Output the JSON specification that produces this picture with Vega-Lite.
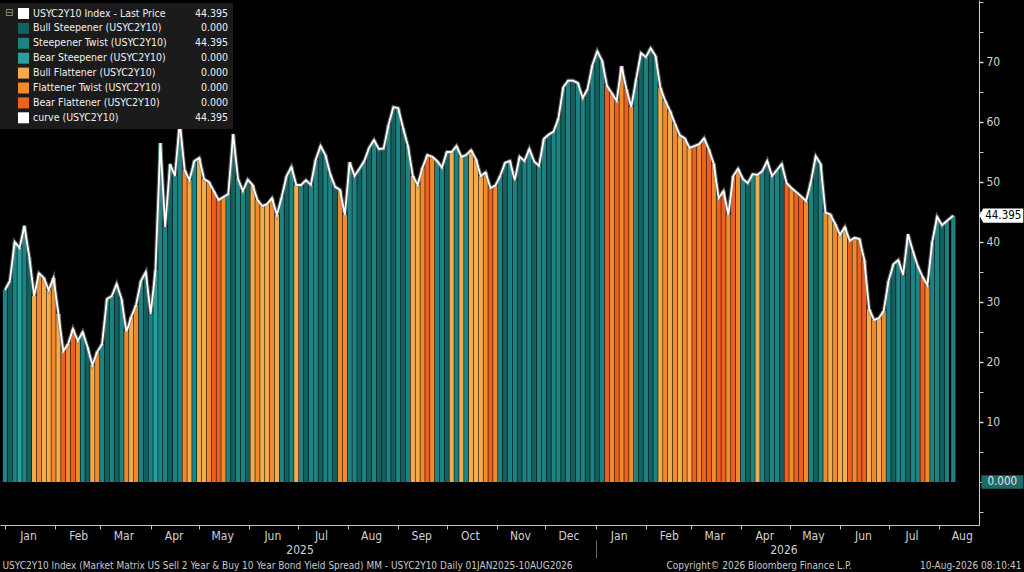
{
  "$schema": "https://vega.github.io/schema/vega-lite/v6.json",
  "width": 979,
  "height": 525,
  "autosize": {"type": "none"},
  "padding": {"left": 0, "top": 0, "right": 45, "bottom": 47},
  "background": "#000000",
  "config": {
    "view": {"stroke": null},
    "font": "Liberation Sans Narrow, DejaVu Sans Condensed, Arial Narrow, sans-serif",
    "axis": {"grid": false, "labelFont": "Liberation Sans Narrow, DejaVu Sans Condensed, sans-serif", "titleFont": "Liberation Sans Narrow, DejaVu Sans Condensed, sans-serif"},
    "legend": {"labelFont": "Liberation Sans Narrow, DejaVu Sans Condensed, sans-serif", "titleFont": "DejaVu Sans, sans-serif"}
  },
  "datasets": {
    "series": [
      {"date":"2025-01-01","value":32,"regime":"ST"},
      {"date":"2025-01-04","value":33.5,"regime":"BS"},
      {"date":"2025-01-07","value":40,"regime":"ST"},
      {"date":"2025-01-10","value":39,"regime":"BeS"},
      {"date":"2025-01-13","value":42.7,"regime":"ST"},
      {"date":"2025-01-16","value":37.5,"regime":"BS"},
      {"date":"2025-01-19","value":31,"regime":"BF"},
      {"date":"2025-01-22","value":34.8,"regime":"FT"},
      {"date":"2025-01-25","value":34,"regime":"BF"},
      {"date":"2025-01-28","value":32,"regime":"BF"},
      {"date":"2025-01-31","value":34,"regime":"FT"},
      {"date":"2025-02-03","value":28,"regime":"BF"},
      {"date":"2025-02-06","value":21.8,"regime":"BeF"},
      {"date":"2025-02-09","value":23,"regime":"FT"},
      {"date":"2025-02-12","value":25.5,"regime":"BeF"},
      {"date":"2025-02-15","value":23.5,"regime":"FT"},
      {"date":"2025-02-18","value":25,"regime":"ST"},
      {"date":"2025-02-21","value":22.5,"regime":"BS"},
      {"date":"2025-02-24","value":19.5,"regime":"BF"},
      {"date":"2025-02-27","value":21.7,"regime":"FT"},
      {"date":"2025-03-02","value":23,"regime":"ST"},
      {"date":"2025-03-05","value":30.5,"regime":"BS"},
      {"date":"2025-03-08","value":31,"regime":"ST"},
      {"date":"2025-03-11","value":33,"regime":"BS"},
      {"date":"2025-03-14","value":30.5,"regime":"ST"},
      {"date":"2025-03-17","value":25,"regime":"FT"},
      {"date":"2025-03-20","value":27.5,"regime":"BF"},
      {"date":"2025-03-23","value":29.5,"regime":"FT"},
      {"date":"2025-03-26","value":33.5,"regime":"ST"},
      {"date":"2025-03-29","value":35,"regime":"BS"},
      {"date":"2025-04-01","value":28,"regime":"ST"},
      {"date":"2025-04-04","value":35.3,"regime":"BeS"},
      {"date":"2025-04-07","value":56.5,"regime":"ST"},
      {"date":"2025-04-10","value":42.5,"regime":"ST"},
      {"date":"2025-04-13","value":53,"regime":"BS"},
      {"date":"2025-04-16","value":51,"regime":"ST"},
      {"date":"2025-04-19","value":60,"regime":"ST"},
      {"date":"2025-04-22","value":52,"regime":"FT"},
      {"date":"2025-04-25","value":50.3,"regime":"BF"},
      {"date":"2025-04-28","value":53.5,"regime":"ST"},
      {"date":"2025-05-01","value":54,"regime":"BF"},
      {"date":"2025-05-04","value":50.5,"regime":"BF"},
      {"date":"2025-05-07","value":50,"regime":"FT"},
      {"date":"2025-05-10","value":48.5,"regime":"BeF"},
      {"date":"2025-05-13","value":47,"regime":"BeF"},
      {"date":"2025-05-16","value":47.5,"regime":"FT"},
      {"date":"2025-05-19","value":48,"regime":"ST"},
      {"date":"2025-05-22","value":58,"regime":"BS"},
      {"date":"2025-05-25","value":50.5,"regime":"ST"},
      {"date":"2025-05-28","value":48.5,"regime":"ST"},
      {"date":"2025-05-31","value":50.4,"regime":"BS"},
      {"date":"2025-06-03","value":49.5,"regime":"BF"},
      {"date":"2025-06-06","value":47,"regime":"FT"},
      {"date":"2025-06-09","value":46,"regime":"BF"},
      {"date":"2025-06-12","value":46.3,"regime":"BF"},
      {"date":"2025-06-15","value":47.3,"regime":"FT"},
      {"date":"2025-06-18","value":44.5,"regime":"BF"},
      {"date":"2025-06-21","value":47.5,"regime":"ST"},
      {"date":"2025-06-24","value":51,"regime":"BS"},
      {"date":"2025-06-27","value":52.5,"regime":"ST"},
      {"date":"2025-06-30","value":49.5,"regime":"BF"},
      {"date":"2025-07-03","value":49.5,"regime":"ST"},
      {"date":"2025-07-06","value":50.3,"regime":"BS"},
      {"date":"2025-07-09","value":49.5,"regime":"ST"},
      {"date":"2025-07-12","value":53.7,"regime":"ST"},
      {"date":"2025-07-15","value":56,"regime":"BS"},
      {"date":"2025-07-18","value":54.5,"regime":"ST"},
      {"date":"2025-07-21","value":51.3,"regime":"ST"},
      {"date":"2025-07-24","value":49.2,"regime":"BS"},
      {"date":"2025-07-27","value":48.7,"regime":"FT"},
      {"date":"2025-07-30","value":44.5,"regime":"FT"},
      {"date":"2025-08-02","value":53.3,"regime":"ST"},
      {"date":"2025-08-05","value":51,"regime":"ST"},
      {"date":"2025-08-08","value":52.2,"regime":"BS"},
      {"date":"2025-08-11","value":53.5,"regime":"ST"},
      {"date":"2025-08-14","value":55.7,"regime":"BS"},
      {"date":"2025-08-17","value":57,"regime":"ST"},
      {"date":"2025-08-20","value":55.5,"regime":"BS"},
      {"date":"2025-08-23","value":55.6,"regime":"BS"},
      {"date":"2025-08-26","value":59.5,"regime":"ST"},
      {"date":"2025-08-29","value":62.5,"regime":"BS"},
      {"date":"2025-09-01","value":62.3,"regime":"ST"},
      {"date":"2025-09-04","value":59,"regime":"BS"},
      {"date":"2025-09-07","value":56,"regime":"ST"},
      {"date":"2025-09-10","value":51,"regime":"BF"},
      {"date":"2025-09-13","value":49.5,"regime":"BF"},
      {"date":"2025-09-16","value":52.4,"regime":"FT"},
      {"date":"2025-09-19","value":54.5,"regime":"BeF"},
      {"date":"2025-09-22","value":54.2,"regime":"FT"},
      {"date":"2025-09-25","value":53.5,"regime":"ST"},
      {"date":"2025-09-28","value":52.4,"regime":"ST"},
      {"date":"2025-10-01","value":55,"regime":"BS"},
      {"date":"2025-10-04","value":55,"regime":"BF"},
      {"date":"2025-10-07","value":56,"regime":"ST"},
      {"date":"2025-10-10","value":54.2,"regime":"BF"},
      {"date":"2025-10-13","value":54.5,"regime":"ST"},
      {"date":"2025-10-16","value":55.3,"regime":"BF"},
      {"date":"2025-10-19","value":53.8,"regime":"BF"},
      {"date":"2025-10-22","value":51,"regime":"BF"},
      {"date":"2025-10-25","value":51.6,"regime":"FT"},
      {"date":"2025-10-28","value":49,"regime":"BeF"},
      {"date":"2025-10-31","value":49.4,"regime":"FT"},
      {"date":"2025-11-03","value":51,"regime":"ST"},
      {"date":"2025-11-06","value":53.2,"regime":"BS"},
      {"date":"2025-11-09","value":53.5,"regime":"ST"},
      {"date":"2025-11-12","value":50.3,"regime":"ST"},
      {"date":"2025-11-15","value":54.2,"regime":"BS"},
      {"date":"2025-11-18","value":53.5,"regime":"ST"},
      {"date":"2025-11-21","value":55.5,"regime":"ST"},
      {"date":"2025-11-24","value":53.4,"regime":"BS"},
      {"date":"2025-11-27","value":52.7,"regime":"ST"},
      {"date":"2025-11-30","value":57.2,"regime":"ST"},
      {"date":"2025-12-03","value":57.9,"regime":"BS"},
      {"date":"2025-12-06","value":58.4,"regime":"ST"},
      {"date":"2025-12-09","value":60.6,"regime":"ST"},
      {"date":"2025-12-12","value":65.8,"regime":"BS"},
      {"date":"2025-12-15","value":66.9,"regime":"ST"},
      {"date":"2025-12-18","value":66.9,"regime":"BS"},
      {"date":"2025-12-21","value":66.5,"regime":"ST"},
      {"date":"2025-12-24","value":64,"regime":"ST"},
      {"date":"2025-12-27","value":65.5,"regime":"BS"},
      {"date":"2025-12-30","value":69.5,"regime":"ST"},
      {"date":"2026-01-02","value":71.8,"regime":"BS"},
      {"date":"2026-01-05","value":70.2,"regime":"ST"},
      {"date":"2026-01-08","value":66,"regime":"BeF"},
      {"date":"2026-01-11","value":64.8,"regime":"FT"},
      {"date":"2026-01-14","value":63.5,"regime":"BeF"},
      {"date":"2026-01-17","value":69.3,"regime":"FT"},
      {"date":"2026-01-20","value":65.5,"regime":"BeF"},
      {"date":"2026-01-23","value":62.5,"regime":"FT"},
      {"date":"2026-01-26","value":67.1,"regime":"ST"},
      {"date":"2026-01-29","value":71.5,"regime":"BS"},
      {"date":"2026-02-01","value":70.8,"regime":"ST"},
      {"date":"2026-02-04","value":72.3,"regime":"BS"},
      {"date":"2026-02-07","value":71,"regime":"ST"},
      {"date":"2026-02-10","value":65.7,"regime":"BF"},
      {"date":"2026-02-13","value":63.5,"regime":"FT"},
      {"date":"2026-02-16","value":61.8,"regime":"BF"},
      {"date":"2026-02-19","value":59.7,"regime":"FT"},
      {"date":"2026-02-22","value":57.8,"regime":"BF"},
      {"date":"2026-02-25","value":57.3,"regime":"FT"},
      {"date":"2026-02-28","value":55.7,"regime":"BF"},
      {"date":"2026-03-03","value":56,"regime":"BeF"},
      {"date":"2026-03-06","value":56.3,"regime":"FT"},
      {"date":"2026-03-09","value":57.3,"regime":"BeF"},
      {"date":"2026-03-12","value":55.4,"regime":"BeF"},
      {"date":"2026-03-15","value":53,"regime":"FT"},
      {"date":"2026-03-18","value":47.3,"regime":"BeF"},
      {"date":"2026-03-21","value":48.5,"regime":"BeF"},
      {"date":"2026-03-24","value":44.5,"regime":"FT"},
      {"date":"2026-03-27","value":51,"regime":"BeF"},
      {"date":"2026-03-30","value":52.2,"regime":"FT"},
      {"date":"2026-04-02","value":50.5,"regime":"ST"},
      {"date":"2026-04-05","value":49.8,"regime":"BS"},
      {"date":"2026-04-08","value":51.3,"regime":"ST"},
      {"date":"2026-04-11","value":51.2,"regime":"BF"},
      {"date":"2026-04-14","value":51.8,"regime":"ST"},
      {"date":"2026-04-17","value":53.5,"regime":"BS"},
      {"date":"2026-04-20","value":51,"regime":"ST"},
      {"date":"2026-04-23","value":52,"regime":"ST"},
      {"date":"2026-04-26","value":53,"regime":"BS"},
      {"date":"2026-04-29","value":49.8,"regime":"BeF"},
      {"date":"2026-05-02","value":49,"regime":"FT"},
      {"date":"2026-05-05","value":48.3,"regime":"BeF"},
      {"date":"2026-05-08","value":47.6,"regime":"BeF"},
      {"date":"2026-05-11","value":46.8,"regime":"FT"},
      {"date":"2026-05-14","value":50,"regime":"ST"},
      {"date":"2026-05-17","value":54.3,"regime":"BS"},
      {"date":"2026-05-20","value":53,"regime":"ST"},
      {"date":"2026-05-23","value":44.9,"regime":"FT"},
      {"date":"2026-05-26","value":44.6,"regime":"BF"},
      {"date":"2026-05-29","value":43,"regime":"FT"},
      {"date":"2026-06-01","value":41.2,"regime":"BF"},
      {"date":"2026-06-04","value":42.5,"regime":"BF"},
      {"date":"2026-06-07","value":40.2,"regime":"BeF"},
      {"date":"2026-06-10","value":40.7,"regime":"FT"},
      {"date":"2026-06-13","value":40.5,"regime":"BeF"},
      {"date":"2026-06-16","value":37,"regime":"BeF"},
      {"date":"2026-06-19","value":28.8,"regime":"BF"},
      {"date":"2026-06-22","value":27,"regime":"FT"},
      {"date":"2026-06-25","value":27.3,"regime":"BF"},
      {"date":"2026-06-28","value":28.5,"regime":"FT"},
      {"date":"2026-07-01","value":33.5,"regime":"ST"},
      {"date":"2026-07-04","value":36.3,"regime":"BS"},
      {"date":"2026-07-07","value":37,"regime":"ST"},
      {"date":"2026-07-10","value":34.5,"regime":"ST"},
      {"date":"2026-07-13","value":41.3,"regime":"BS"},
      {"date":"2026-07-16","value":38.5,"regime":"ST"},
      {"date":"2026-07-19","value":36,"regime":"ST"},
      {"date":"2026-07-22","value":34.2,"regime":"BeF"},
      {"date":"2026-07-25","value":32.8,"regime":"FT"},
      {"date":"2026-07-28","value":40,"regime":"ST"},
      {"date":"2026-07-31","value":44.2,"regime":"ST"},
      {"date":"2026-08-03","value":42.8,"regime":"BS"},
      {"date":"2026-08-06","value":43.5,"regime":"ST"},
      {"date":"2026-08-10","value":44.395,"regime":"ST"}
    ]
  },
  "data": {"name": "series"},
  "layer": [
    {
      "mark": {"type": "bar", "width": 4.3},
      "encoding": {
        "x": {
          "field": "date", "type": "temporal",
          "scale": {"domain": [{"year": 2025, "month": 1, "date": 1}, {"year": 2026, "month": 8, "date": 22, "hours": 19}]},
          "axis": {
            "orient": "bottom", "title": null,
            "tickCount": {"interval": "month", "step": 1}, "format": "%b",
            "labelOffset": 23, "labelPadding": 1, "tickSize": 4,
            "domainColor": "#c4c4c4", "tickColor": "#c4c4c4",
            "labelColor": "#d2d2d2", "labelFontSize": 12,
            "labelOverlap": false, "labelFlush": false, "labelBound": false
          }
        },
        "y": {
          "field": "value", "type": "quantitative",
          "scale": {"domain": [-7.17, 80.33], "nice": false, "zero": false},
          "axis": {
            "orient": "right",
            "values": [10, 20, 30, 40, 50, 60, 70],
            "format": "d",
            "tickSize": 4, "tickColor": "#d0d0d0", "tickWidth": 1.5, "domainColor": "#d0d0d0",
            "labelPadding": 3, "labelFontSize": 12, "labelColor": "#d2d2d2",
            "labelOverlap": false, "labelBound": false, "labelFlush": false,
            "title": "10-Aug-2026 08:10:41", "titleAngle": 0, "titleX": 42, "titleY": 565,
            "titleAlign": "right", "titleBaseline": "middle", "titleFontSize": 10,
            "titleFontWeight": "normal", "titleColor": "#c8c8c8"
          }
        },
        "color": {
          "field": "regime", "type": "nominal",
          "scale": {
            "domain": ["LP", "BS", "ST", "BeS", "BF", "FT", "BeF", "CV"],
            "range": ["#ffffff", "#13615f", "#1c8282", "#2a9f9f", "#f4ab4b", "#f08a2c", "#ec6120", "#ffffff"]
          },
          "legend": {
            "orient": "none", "legendX": 0, "legendY": 3, "direction": "vertical", "zindex": 2,
            "title": "\u229f", "titleOrient": "left", "titleAnchor": "start", "titleFontSize": 10,
            "titleColor": "#9a9a9a", "titleFontWeight": "normal", "titlePadding": 4, "titleBaseline": "top",
            "symbolType": "square", "symbolSize": 121, "symbolStrokeWidth": 0,
            "labelColor": "#f0f0f0", "labelFontSize": 10.5, "labelOffset": 4, "labelLimit": 500,
            "rowPadding": 3.9, "padding": 5, "fillColor": "#1b1b1b", "strokeColor": null,
            "labelExpr": "datum.value == 'LP' ? 'USYC2Y10 Index - Last Price' : datum.value == 'BS' ? 'Bull Steepener (USYC2Y10)' : datum.value == 'ST' ? 'Steepener Twist (USYC2Y10)' : datum.value == 'BeS' ? 'Bear Steepener (USYC2Y10)' : datum.value == 'BF' ? 'Bull Flattener (USYC2Y10)' : datum.value == 'FT' ? 'Flattener Twist (USYC2Y10)' : datum.value == 'BeF' ? 'Bear Flattener (USYC2Y10)' : 'curve (USYC2Y10)'"
          }
        }
      }
    },
    {
      "mark": {"type": "line", "color": "#8a8a8a", "strokeWidth": 4, "opacity": 0.55},
      "encoding": {
        "x": {
          "field": "date", "type": "temporal",
          "scale": {"domain": [{"year": 2025, "month": 1, "date": 1}, {"year": 2026, "month": 8, "date": 22, "hours": 19}]},
          "axis": {
            "orient": "bottom",
            "values": [{"year": 2025, "month": 7, "date": 2}, {"year": 2026, "month": 4, "date": 27}],
            "format": "%Y", "ticks": false, "tickSize": 0, "domain": false, "labelPadding": 19,
            "labelColor": "#d2d2d2", "labelFontSize": 12, "labelOverlap": false, "labelFlush": false, "labelBound": false,
            "title": "USYC2Y10 Index (Market Matrix US Sell 2 Year & Buy 10 Year Bond Yield Spread) MM - USYC2Y10 Daily 01JAN2025-10AUG2026",
            "titleX": 2, "titleY": 40, "titleAlign": "left", "titleAnchor": "start", "titleBaseline": "middle",
            "titleFontSize": 10, "titleFontWeight": "normal", "titleColor": "#c8c8c8"
          }
        },
        "y": {
          "field": "value", "type": "quantitative",
          "scale": {"domain": [-7.17, 80.33], "nice": false, "zero": false},
          "axis": {
            "orient": "right", "values": [-5, 0, 5, 15, 25, 35, 45, 55, 65, 75, 80],
            "labels": false, "domain": false, "tickSize": 4, "tickColor": "#c8c8c8", "title": null
          }
        }
      }
    },
    {
      "mark": {"type": "line", "color": "#ffffff", "strokeWidth": 1.8},
      "encoding": {
        "x": {
          "field": "date", "type": "temporal",
          "scale": {"domain": [{"year": 2025, "month": 1, "date": 1}, {"year": 2026, "month": 8, "date": 22, "hours": 19}]},
          "axis": {
            "orient": "bottom", "offset": 15,
            "values": [{"year": 2026, "month": 1, "date": 1}],
            "domain": false, "labels": false, "ticks": true, "tickSize": 18, "tickColor": "#6a6a6a",
            "title": "Copyright\u00a9 2026 Bloomberg Finance L.P.",
            "titleX": 666, "titleY": 25, "titleAlign": "left", "titleAnchor": "start", "titleBaseline": "middle",
            "titleFontSize": 10, "titleFontWeight": "normal", "titleColor": "#c8c8c8"
          }
        },
        "y": {"field": "value", "type": "quantitative", "axis": null, "scale": {"domain": [-7.17, 80.33], "nice": false, "zero": false}}
      }
    },
    {
      "data": {"values": [{"date": "2026-08-10", "value": 44.395, "label": "44.395"}]},
      "encoding": {
        "x": {"field": "date", "type": "temporal", "axis": null,
          "scale": {"domain": [{"year": 2025, "month": 1, "date": 1}, {"year": 2026, "month": 8, "date": 22, "hours": 19}]}},
        "y": {"field": "value", "type": "quantitative", "axis": null, "scale": {"domain": [-7.17, 80.33], "nice": false, "zero": false}}
      },
      "layer": [
        {"mark": {"type": "point", "shape": "M-1,0L-0.82,-0.32L1,-0.32L1,0.32L-0.82,0.32Z", "size": 1936, "filled": true, "fill": "#ffffff", "opacity": 1, "strokeWidth": 0, "xOffset": 48}},
        {"mark": {"type": "text", "dx": 50, "fontSize": 11.5, "color": "#000000", "align": "center", "baseline": "middle"},
         "encoding": {"text": {"field": "label"}}}
      ]
    },
    {
      "data": {"values": [{"date": "2026-08-10", "value": 0, "label": "0.000"}]},
      "encoding": {
        "x": {"field": "date", "type": "temporal", "axis": null,
          "scale": {"domain": [{"year": 2025, "month": 1, "date": 1}, {"year": 2026, "month": 8, "date": 22, "hours": 19}]}},
        "y": {"field": "value", "type": "quantitative", "axis": null, "scale": {"domain": [-7.17, 80.33], "nice": false, "zero": false}}
      },
      "layer": [
        {"mark": {"type": "point", "shape": "M-1,-0.32L1,-0.32L1,0.32L-1,0.32Z", "size": 1764, "filled": true, "fill": "#1d6a6a", "opacity": 1, "strokeWidth": 0, "xOffset": 49}},
        {"mark": {"type": "text", "dx": 49, "fontSize": 11.5, "color": "#e6e6e6", "align": "center", "baseline": "middle"},
         "encoding": {"text": {"field": "label"}}}
      ]
    },
    {
      "data": {"values": [{"row": "1"}, {"row": "2"}, {"row": "3"}, {"row": "4"}, {"row": "5"}, {"row": "6"}, {"row": "7"}, {"row": "8"}]},
      "mark": {"type": "point", "opacity": 0},
      "encoding": {
        "shape": {
          "field": "row", "type": "nominal",
          "scale": {"domain": ["1", "2", "3", "4", "5", "6", "7", "8"]},
          "legend": {
            "orient": "none", "legendX": 150, "legendY": 3, "direction": "vertical", "title": null, "zindex": 1,
            "symbolType": "square", "symbolSize": 121, "symbolOpacity": 0, "symbolStrokeWidth": 0,
            "labelAlign": "right", "labelOffset": 62, "labelColor": "#f0f0f0", "labelFontSize": 10.5,
            "rowPadding": 3.9, "padding": 5, "fillColor": "#1b1b1b", "strokeColor": null,
            "labelExpr": "datum.value == '1' || datum.value == '3' || datum.value == '8' ? '44.395' : '0.000'"
          }
        }
      }
    }
  ],
  "resolve": {"axis": {"x": "independent", "y": "independent"}}
}
